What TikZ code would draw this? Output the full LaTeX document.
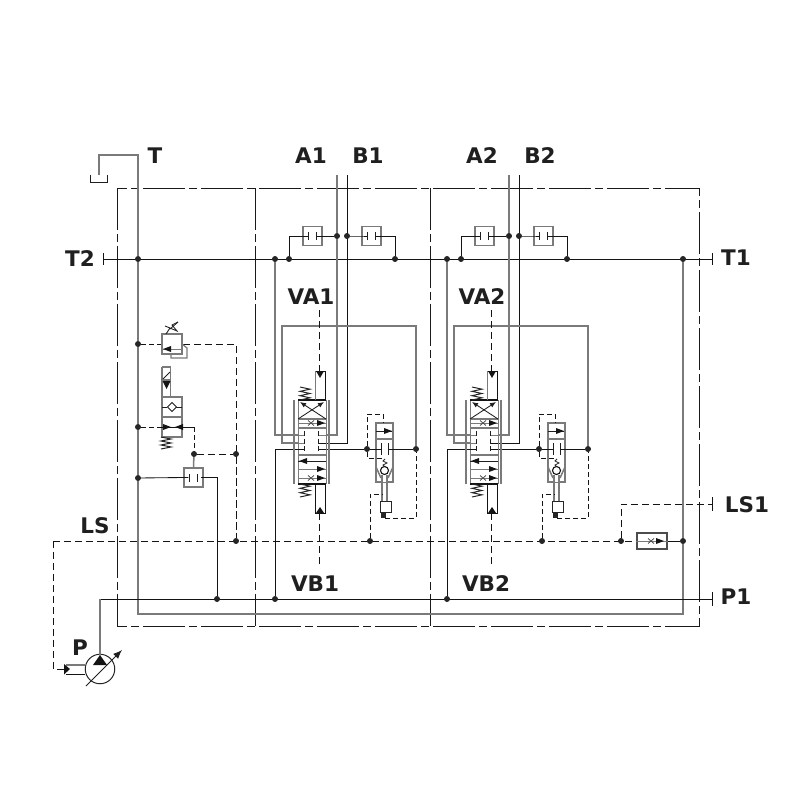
\documentclass[tikz,border=0pt]{standalone}
\usepackage{fontspec}
\setmainfont{DejaVu Sans}
\usetikzlibrary{arrows.meta}
\tikzset{
  grayline/.style={draw=black!52,line width=1.5pt},
  blackline/.style={draw=black!92,line width=0.85pt},
  pilot/.style={draw=black!92,line width=0.95pt,dash pattern=on 7pt off 4pt},
  framedash/.style={draw=black!90,line width=1pt,dash pattern=on 42pt off 4pt on 8pt off 4pt},
  dot/.style={circle,fill=black!85,inner sep=0pt,minimum size=5.5pt},
  lbl/.style={font=\fontsize{21.5}{22}\selectfont\bfseries,text=black!88,inner sep=0pt},
  vbox/.style={draw=black!52,line width=1.5pt,fill=white,inner sep=0pt,rectangle},
  head/.style={fill=black!92,draw=none},
  thinline/.style={draw=black!88,line width=0.85pt},
}
\newcommand{\topdot}[1]{\fill[black!85] (#1.center) circle (2.9pt);}
\newcommand{\tickbox}[6]{% name, x, y, w, h, tick half height
  \node[vbox,minimum width=#4pt,minimum height=#5pt] (#1) at (#2,#3) {};
  \draw[thinline] ([xshift=-#4pt*0.22]#1.center) ++(0,-#6) -- ++(0,2*#6);
  \draw[thinline] ([xshift=#4pt*0.22]#1.center) ++(0,-#6) -- ++(0,2*#6);
}
\newcommand{\spring}[3]{% x, ytop, ybottom
  \pgfmathsetmacro{\sa}{#2}\pgfmathsetmacro{\sb}{(#3-#2)/6}
  \draw[line width=1pt,black!85] (#1-5,\sa) -- (#1+5,\sa+\sb) -- (#1-5,\sa+2*\sb) -- (#1+5,\sa+3*\sb)
    -- (#1-5,\sa+4*\sb) -- (#1+5,\sa+5*\sb) -- (#1-5,\sa+6*\sb);
}
\newcommand{\xmark}[2]{%
  \draw[line width=0.8pt,black!70] (#1-3,#2-2.5) -- (#1+3,#2+2.5) (#1-3,#2+2.5) -- (#1+3,#2-2.5);
}
\newcommand{\headR}[2]{\fill[head] (#1,#2) -- ++(-8,-3) -- ++(0,6) -- cycle;}
\newcommand{\headL}[2]{\fill[head] (#1,#2) -- ++(8,-3) -- ++(0,6) -- cycle;}
\newcommand{\valvesection}[2]{%
\begin{scope}[shift={(#1,0)}]
  \node[dot] (#2tl) at (275,259) {};
  \node[dot] (#2t0) at (289,259) {};
  \node[dot] (#2t1) at (395,259) {};
  \node[dot] (#2pa) at (337,236) {};
  \node[dot] (#2pb) at (347,236) {};
  \node[dot] (#2pl) at (275,599) {};
  \node[dot] (#2c1) at (367,449) {};
  \node[dot] (#2c2) at (416,449) {};
  \node[dot] (#2ls) at (370,541) {};
  \coordinate (#2atop) at (337,175);
  \coordinate (#2btop) at (347,175);
  \coordinate (#2aL) at (304,435);
  \coordinate (#2aR) at (318,435);
  \coordinate (#2bL) at (304,443);
  \coordinate (#2bR) at (318,443);
  \coordinate (#2pL) at (304,449);
  \coordinate (#2pR) at (318,449);
  \tickbox{#2r1}{312.5}{236}{19}{19}{4pt}
  \tickbox{#2r2}{371.5}{236}{19}{19}{4pt}
  \draw[blackline] (#2t0) |- (#2r1.west);
  \draw[blackline] (#2r1.west) -- ++(6,0);
  \draw[blackline] (#2r1.east) -- ++(-6,0);
  \draw[blackline] (#2r1.east) -- (#2pa);
  \draw[blackline] (#2pb) -- (#2r2.west) -- ++(6,0);
  \draw[blackline] (#2r2.east) -- ++(-6,0);
  \draw[blackline] (#2r2.east) -| (#2t1);
  \draw[grayline] (#2atop) -- (337,435) -- (#2aR);
  \draw[grayline] (#2tl) |- (#2aL);
  \draw[blackline] (#2btop) -- (347,443) -- (#2bR);
  \draw[grayline] (#2bL) -| (282,326) -- (416,326) -- (#2c2);
  \draw[blackline] (#2pl) |- (#2pL);
  \draw[blackline] (#2pR) -- (#2c1);
  % spool body
  \fill[white] (298,431) rectangle (326,453);
  \draw[grayline] (294,400) -- (294,484) (329,400) -- (329,484);
  \draw[grayline,line width=1pt] (298,400) -- (298,484) (326,400) -- (326,484);
  \draw[blackline,line width=1.1pt] (298,400) -- (326,400) (298,484) -- (326,484);
  \draw[grayline,line width=1.1pt] (298,419) -- (326,419) (298,428) -- (326,428) (298,455) -- (326,455);
  \draw[thinline,-{Latex[length=6pt,width=5pt]}] (326,419) -- (300,402);
  \draw[thinline,-{Latex[length=6pt,width=5pt]}] (298,419) -- (324,402);
  \draw[grayline,line width=1pt] (298,423) -- (326,423);
  \xmark{311}{423}\headR{325}{423}
  \draw[thinline] (298,461) -- (326,461); \headL{299}{461}
  \draw[grayline,line width=1pt] (298,469) -- (326,469); \headR{325}{469}
  \draw[grayline,line width=1pt] (298,478) -- (326,478); \xmark{311}{478}\headR{325}{478}
  \fill[white] (298.5,430) rectangle (325.5,453);
  \draw[grayline,line width=1pt] (298,435) -- (304,435) (298,443) -- (304,443) (318,435) -- (326,435);
  \draw[blackline] (298,449) -- (304,449) (318,443) -- (326,443) (318,449) -- (326,449);
  \draw[thinline,dash pattern=on 5pt off 2.5pt] (304,431) -- (304,453) (318,431) -- (318,453);
  % actuators
  \draw[grayline] (315.5,400) -- (315.5,371);
  \draw[blackline] (315.5,371) -- (325,371) -- (325,400);
  \fill[head] (320,378) -- (316,371) -- (324,371) -- cycle;
  \draw[blackline] (315.5,484) -- (315.5,513) -- (325,513) -- (325,484);
  \fill[head] (320,507) -- (316,513) -- (324,513) -- cycle;
  \spring{305}{387}{400}
  \spring{305}{484}{497}
  % logic valve
  \draw[grayline,fill=white] (376,423) rectangle (393,482);
  \draw[grayline] (376,439) -- (393,439);
  \draw[thinline] (376,431) -- (392,431); \headR{392}{431}
  \draw[blackline] (#2c1) -- (381,449);
  \draw[blackline] (388,449) -- (#2c2);
  \draw[thinline] (381,443) -- (381,455) (388,443) -- (388,455);
  \draw[pilot,dash pattern=on 5pt off 3pt] (#2c1) |- (383,414) -- (383,423);
  \draw[pilot,dash pattern=on 5pt off 3pt] (#2c1) |- (383,458);
  \draw[line width=0.8pt,black!85] (385,459) -- (383,461) -- (387,463) -- (383,465) -- (385,467);
  \draw[grayline] (376,467) -- (381,478);
  \draw[grayline] (393,467) -- (388,478);
  \fill[white] (382,476) rectangle (387,482);
  \draw[grayline] (382,475) -- (382,502) (387,475) -- (387,502);
  \draw[blackline,line width=1.1pt,fill=white] (384.5,470.5) circle (4);
  \node[vbox,draw=black!85,line width=1pt,minimum width=11pt,minimum height=11pt] (#2sol) at (385.5,507) {};
  \fill[black!85] (381,513) rectangle (386,518);
  \draw[pilot,dash pattern=on 5pt off 3pt] (#2ls) |- (382,494);
  \draw[pilot,dash pattern=on 5pt off 3pt] (385,518) -| (#2c2);
  % pilot lines
  \coordinate (#2va) at (319,310);
  \coordinate (#2vb) at (319,565);
  \draw[pilot] (#2va) -- (319,371);
  \draw[pilot] (319,513) -- (#2vb);
  % junction dots on top
  \topdot{#2tl}\topdot{#2t0}\topdot{#2t1}\topdot{#2pa}\topdot{#2pb}\topdot{#2pl}\topdot{#2c1}\topdot{#2c2}\topdot{#2ls}
\end{scope}}
\begin{document}
\begin{tikzpicture}[x=1pt,y=-1pt]
\useasboundingbox (0,0) rectangle (800,800);
\draw[framedash] (117,188) rectangle (699,626);
\draw[framedash] (255,188) -- (255,626);
\draw[framedash] (430,188) -- (430,626);
\node[dot] (tj) at (138,259) {};
\node[dot] (rj) at (683,259) {};
\node[dot] (lsj) at (683,541) {};
\node[dot] (lsa) at (236,541) {};
\node[dot] (lsb) at (621,541) {};
\node[dot] (pj) at (217,599) {};
\node[dot] (j1) at (138,344) {};
\node[dot] (j2) at (138,427) {};
\node[dot] (j3) at (138,478) {};
\node[dot] (j4) at (194,454) {};
\node[dot] (j5) at (236,454) {};
\coordinate (t2end) at (103,259);
\coordinate (t1end) at (712,259);
\coordinate (p1end) at (712,599);
\coordinate (ls1end) at (712,504);
\coordinate (tankin) at (99,175);
\coordinate (lsstart) at (53,541);
% tank return
\draw[grayline] (tankin) |- (138,155) -- (tj);
\draw[grayline] (tj) -- (138,614) -- (683,614) -- (rj);
\draw[thinline] (90,175) -- (90,182) -- (107,182) -- (107,175);
\draw[blackline] (t2end) -- (t1end);
\draw[blackline] (103,253) -- (103,265);
\draw[blackline] (712,253) -- (712,265);
\draw[blackline] (100,599) -- (p1end);
\draw[blackline] (712,592) -- (712,606);
% LS lines
\draw[pilot] (lsstart) -- (637,541);
\draw[pilot] (lsb) |- (ls1end);
\draw[blackline] (712,497) -- (712,511);
\node[vbox,draw=black!70,minimum width=30pt,minimum height=16pt] (shuttle) at (652,541) {};
\draw[grayline,line width=1pt] (shuttle.west) -- (shuttle.east);
\xmark{651}{541}\headR{664}{541}
\draw[blackline] (shuttle.east) -- (lsj);
% sections
\valvesection{0}{s}
\valvesection{172}{u}
% relief valve
\node[vbox,minimum width=20pt,minimum height=20pt] (rv) at (172,344) {};
\draw[grayline,line width=1pt] (162,349) -- (182,349); \headL{163}{349}
\draw[thinline] (166,334) -- (170,328) -- (165,326) (170,328) -- (177,331) -- (172,325) -- (178,322);
\draw[thinline] (170,329) -- (178,322);
\draw[pilot,dash pattern=on 5pt off 3pt] (j1) -- (rv.west);
\draw[pilot] (rv.east) -| (lsa);
\draw[grayline,line width=1.2pt] (171,354) -- (171,358) -- (187,358) -- (187,348) -- (182,344);
% solenoid valve
\node[vbox,minimum width=20pt,minimum height=40pt] (sv) at (172,417) {};
\draw[grayline] (162,417) -- (182,417);
\draw[grayline] (162,367) -- (170.5,367) -- (170.5,397) (162,367) -- (162,397);
\draw[thinline] (162,380) -- (170,372);
\draw[grayline] (162,380) -- (170.5,380);
\fill[head] (166.5,389) -- (162.5,381) -- (170.5,381) -- cycle;
\draw[thinline] (162,407) -- (167,407) (176,407) -- (182,407);
\draw[thinline,fill=white] (172,402.5) -- (176.5,407) -- (172,411.5) -- (167.5,407) -- cycle;
\spring{166}{437}{449}
\draw[pilot,dash pattern=on 5pt off 3pt] (j2) -- (162,427);
\draw[blackline] (162,427) -- (194,427);
\headR{171}{427}\headL{175}{427}
\draw[pilot,dash pattern=on 5pt off 3pt] (194,427) -- (j4);
\draw[pilot] (j4) -- (j5);
\draw[pilot] (j5) -- (lsa);
% LS compensator
\tickbox{cmp}{193.5}{477.5}{19}{19}{4pt}
\draw[grayline] (j4) -- (cmp.north);
\draw[blackline] (j3) -- (cmp.west) -- ++(5,0);
\draw[blackline] (cmp.east) -- ++(-3,0);
\draw[blackline] (cmp.east) -| (pj);
% pump
\node[draw=black!85,line width=1pt,circle,minimum size=29.5pt,inner sep=0pt,fill=white] (pump) at (100,669) {};
\fill[head] (100,655) -- (93,665) -- (107,665) -- cycle;
\draw[grayline] (100,656) -- (100,599);
\draw[thinline,-{Latex[length=9pt,width=7pt]}] (86,686) -- (122,650);
\draw[grayline] (66,665) -- (85,665);
\draw[blackline] (66,674) -- (85,674);
\fill[head] (64,664) -- (64,674.5) -- (70,669) -- cycle;
\draw[pilot] (lsstart) -- (53,669) -- (64,669);
% junction dots on top
\topdot{tj}\topdot{rj}\topdot{lsj}\topdot{lsa}\topdot{lsb}\topdot{pj}\topdot{j1}\topdot{j2}\topdot{j3}\topdot{j4}\topdot{j5}
% labels
\node[lbl] (lT) at (155,156) {T};
\node[lbl] (lA1) at (311,156) {A1};
\node[lbl] (lB1) at (368,156) {B1};
\node[lbl] (lA2) at (482,156) {A2};
\node[lbl] (lB2) at (540,156) {B2};
\node[lbl] (lT2) at (80,259) {T2};
\node[lbl] (lT1) at (736,258) {T1};
\node[lbl] (lVA1) at (311,297) {VA1};
\node[lbl] (lVA2) at (482,297) {VA2};
\node[lbl] (lLS) at (95,526) {LS};
\node[lbl] (lLS1) at (747,505) {LS1};
\node[lbl] (lVB1) at (315,584) {VB1};
\node[lbl] (lVB2) at (486,584) {VB2};
\node[lbl] (lP1) at (736,597) {P1};
\node[lbl] (lP) at (80,648) {P};
\end{tikzpicture}
\end{document}
